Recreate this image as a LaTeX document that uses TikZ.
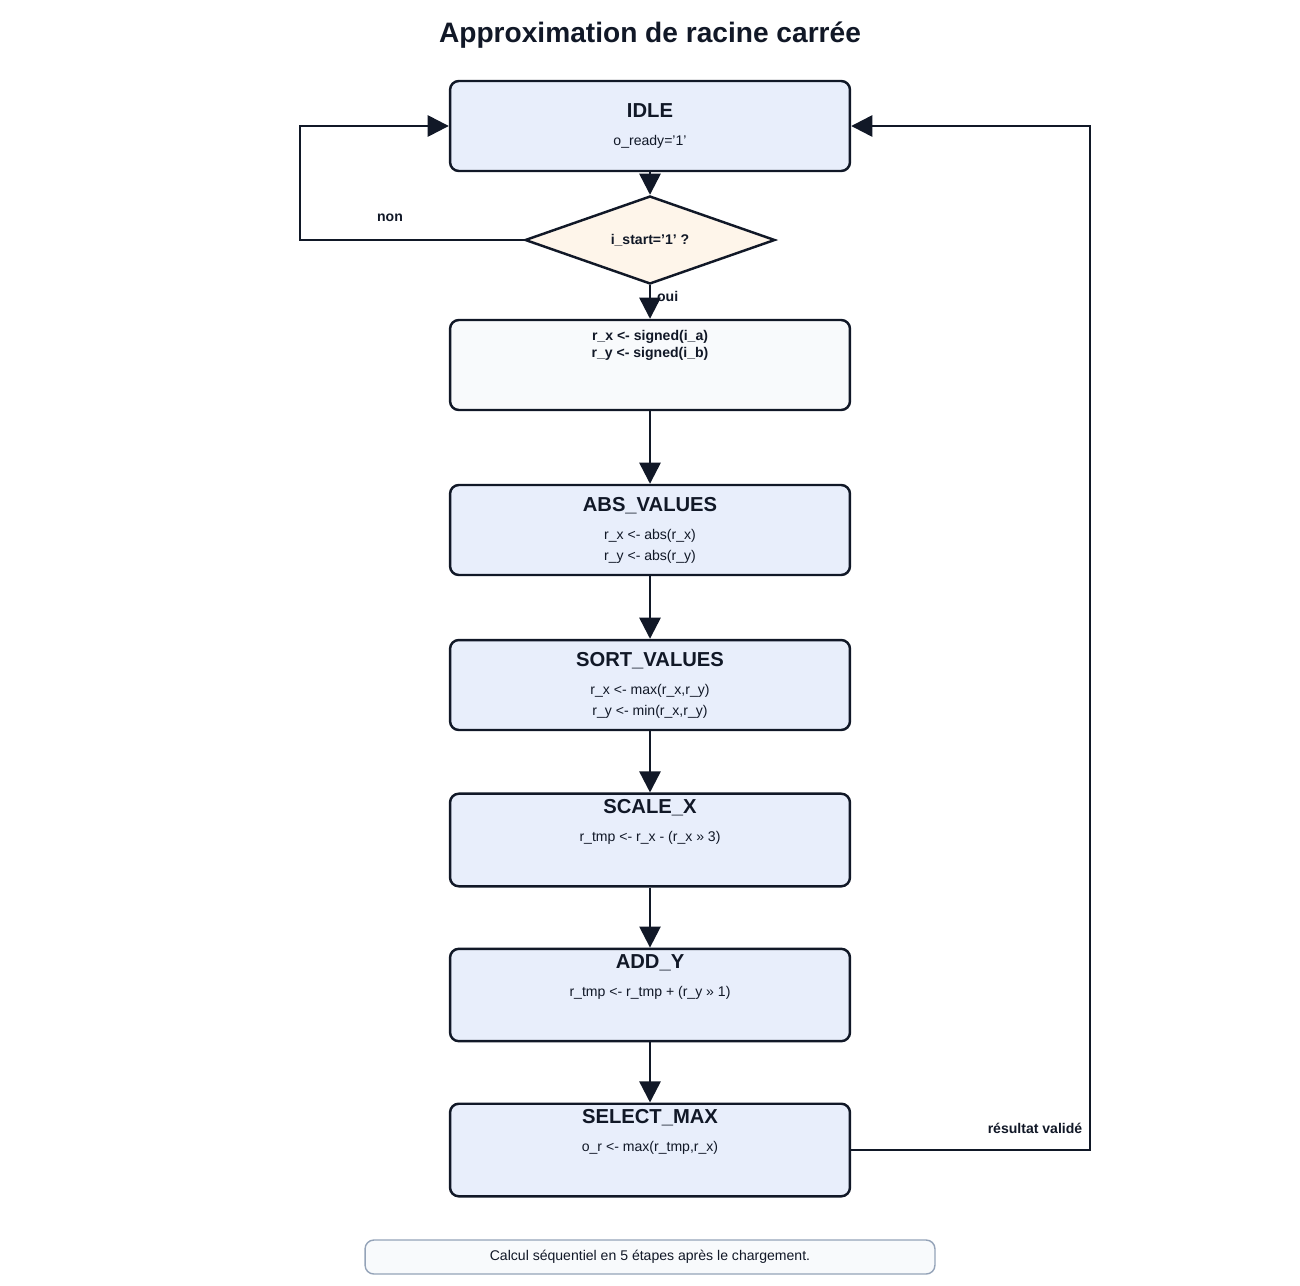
\documentclass[tikz,border=0pt]{standalone}
\usepackage{fontspec}
\setmainfont{Liberation Sans}
\usetikzlibrary{shapes.geometric,arrows.meta}
\definecolor{ink}{HTML}{111827}
\definecolor{statefill}{HTML}{E8EEFB}
\definecolor{decfill}{HTML}{FEF5EA}
\definecolor{initfill}{HTML}{F8FAFC}
\definecolor{notegray}{HTML}{94A3B8}
\tikzset{
  state/.style={draw=ink, line width=1.4pt, rounded corners=5pt, fill=statefill,
    minimum width=8cm, minimum height=1.8cm, align=center, text=ink},
  flow/.style={draw=ink, line width=1.4pt, -{Triangle[length=12pt,width=12pt]}},
  lbl/.style={font=\fontsize{8}{10}\selectfont\bfseries, text=ink}
}
\newcommand{\ttlfont}{\fontsize{11.5}{14}\selectfont\bfseries}
\newcommand{\subfont}{\fontsize{8}{11}\selectfont\mdseries}
\begin{document}
\begin{tikzpicture}[x=0.02cm, y=-0.02cm]
\useasboundingbox (0,0) rectangle (1300,1285);
\node[text=ink, font=\fontsize{16}{19}\selectfont\bfseries] (title) at (650,35) {Approximation de racine carrée};

\node[state] (idle) at (650,126) {\ttlfont IDLE\\[4pt]\subfont o\_ready='1'};
\node[diamond, draw=ink, line width=1.4pt, fill=decfill, aspect=2.84, minimum width=5cm, minimum height=1.76cm, inner sep=0pt, lbl] (dec) at (650,240) {i\_start='1' ?};
\node[state, fill=initfill, font=\fontsize{8}{10}\selectfont\bfseries] (init) at (650,365) {r\_x <- signed(i\_a)\\r\_y <- signed(i\_b)\\[14pt]};
\node[state] (abs) at (650,530) {\ttlfont ABS\_VALUES\\[4pt]\subfont r\_x <- abs(r\_x)\\\subfont r\_y <- abs(r\_y)};
\node[state] (sort) at (650,685) {\ttlfont SORT\_VALUES\\[4pt]\subfont r\_x <- max(r\_x,r\_y)\\\subfont r\_y <- min(r\_x,r\_y)};
\node[state] (scale) at (650,840) {\ttlfont SCALE\_X\\[4pt]\subfont r\_tmp <- r\_x - (r\_x >> 3)\\[10pt]};
\node[state] (add) at (650,995) {\ttlfont ADD\_Y\\[4pt]\subfont r\_tmp <- r\_tmp + (r\_y >> 1)\\[10pt]};
\node[state] (sel) at (650,1150) {\ttlfont SELECT\_MAX\\[4pt]\subfont o\_r <- max(r\_tmp,r\_x)\\[10pt]};

\coordinate (nonA) at (300,240);
\coordinate (nonB) at (300,126);
\coordinate (resA) at (1090,1150);
\coordinate (resB) at (1090,126);

\draw[flow] (idle) -- (dec);
\draw[flow] (dec) -- (init) node[lbl, pos=0.35, right] {oui};
\draw[flow] (init) -- (abs);
\draw[flow] (abs) -- (sort);
\draw[flow] (sort) -- (scale);
\draw[flow] (scale) -- (add);
\draw[flow] (add) -- (sel);
\draw[flow] (dec.west) -- (nonA) -- (nonB) -- (idle.west);
\node[lbl] (non) at (390,218) {non};
\draw[flow] (sel.east) -- (resA) -- (resB) -- (idle.east);
\node[lbl] (res) at (1035,1128) {résultat validé};

\node[draw=notegray, line width=0.8pt, rounded corners=5pt, fill=initfill, minimum width=11.4cm, minimum height=0.68cm, text=ink, font=\fontsize{8}{10}\selectfont] (note) at (650,1257) {Calcul séquentiel en 5 étapes après le chargement.};
\end{tikzpicture}
\end{document}
